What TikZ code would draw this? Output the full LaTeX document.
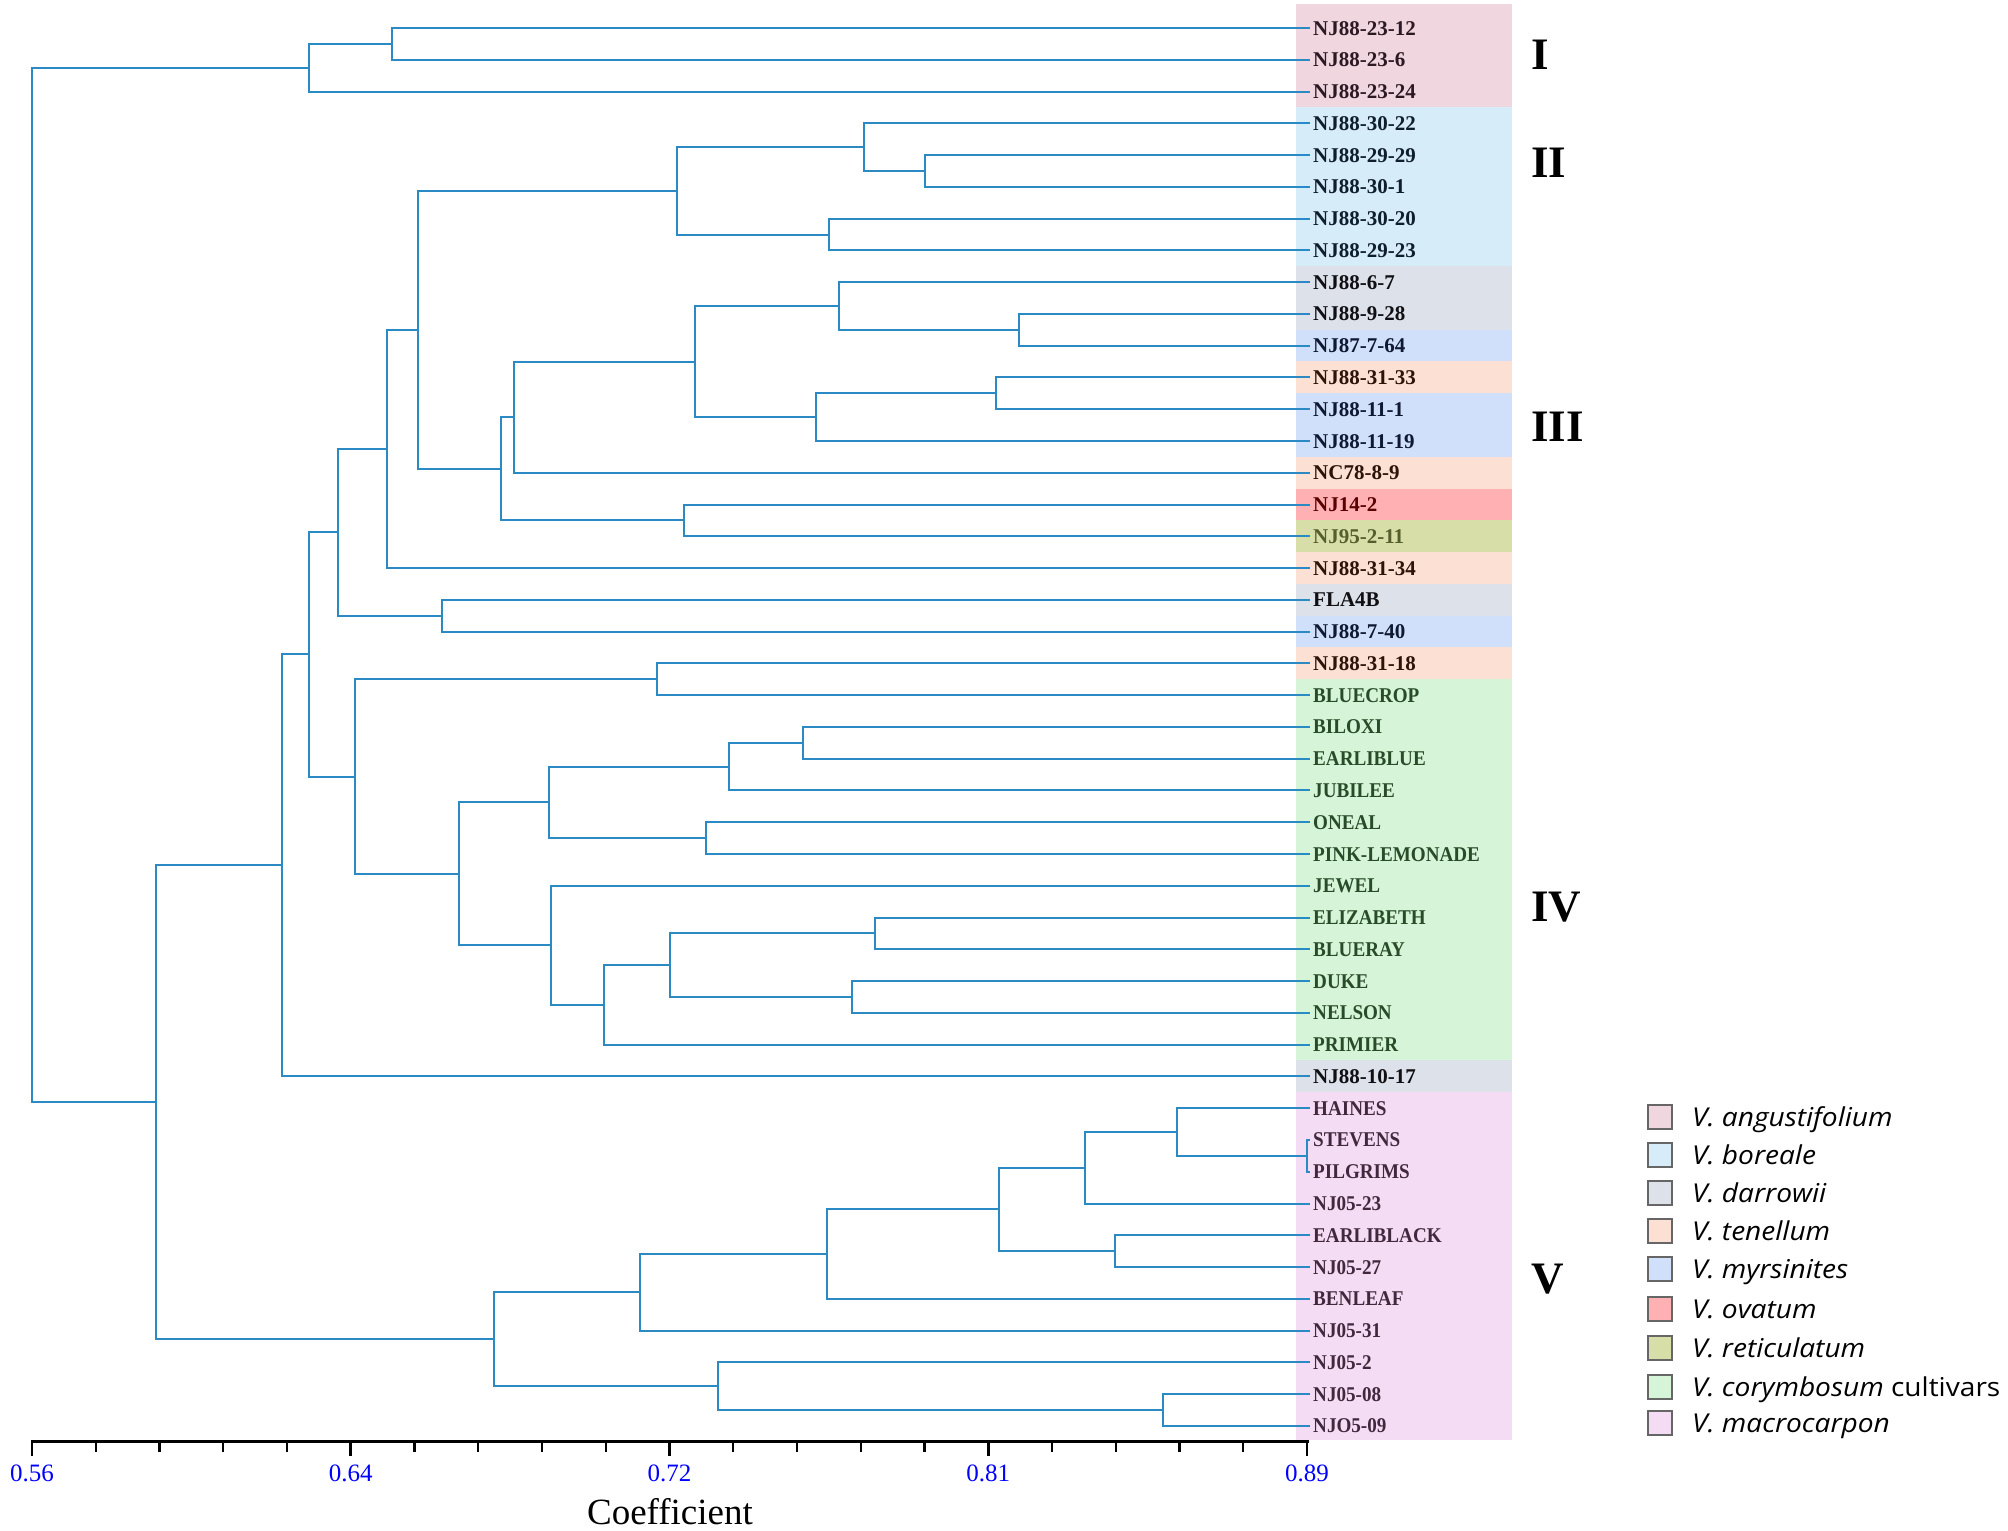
\documentclass[tikz,border=0pt]{standalone}
\usepackage{fontspec}
\setmainfont{Liberation Serif}
\newfontfamily\legfont[FakeStretch=1.08]{Open Sans}
\usetikzlibrary{calc}

\definecolor{brc}{RGB}{43,137,196}
\definecolor{cang}{RGB}{240,214,222}
\definecolor{cbor}{RGB}{214,236,248}
\definecolor{cdar}{RGB}{221,225,234}
\definecolor{cten}{RGB}{252,224,212}
\definecolor{cmyr}{RGB}{208,224,250}
\definecolor{cova}{RGB}{255,176,178}
\definecolor{cret}{RGB}{216,222,168}
\definecolor{ccor}{RGB}{214,244,216}
\definecolor{cmac}{RGB}{244,220,244}
\definecolor{tang}{RGB}{45,25,35}
\definecolor{tbor}{RGB}{15,30,45}
\definecolor{tdar}{RGB}{15,15,20}
\definecolor{tmyr}{RGB}{15,25,50}
\definecolor{tten}{RGB}{45,20,10}
\definecolor{tova}{RGB}{90,0,0}
\definecolor{tret}{RGB}{85,95,45}
\definecolor{tcor}{RGB}{40,75,40}
\definecolor{tmac}{RGB}{65,40,60}
\definecolor{tickblue}{RGB}{0,0,255}

\tikzset{
  branch/.style={draw=brc, line width=2pt, line join=miter},
  leaflab/.style={anchor=base west, inner sep=0pt, font=\fontsize{21}{24}\selectfont\bfseries},
  clade/.style={anchor=west, inner sep=0pt, font=\fontsize{45}{50}\selectfont\bfseries},
  axisline/.style={draw=black, line width=3pt},
  majtick/.style={draw=black, line width=2.6pt},
  mintick/.style={draw=black, line width=2.2pt},
  ticklab/.style={anchor=base, inner sep=0pt, text=tickblue, font=\fontsize{25}{28}\selectfont},
  legbox/.style={draw=gray!80!black, line width=1.3pt, minimum width=24pt, minimum height=24pt, inner sep=0pt},
  legtext/.style={anchor=base west, inner sep=0pt, font=\legfont\fontsize{26}{30}\selectfont}
}

\newcommand\jn[4]{%
  \path ($(#3)!0.5!(#4)$) coordinate (jtmp) (#2,0) coordinate (jtmpx);
  \coordinate (#1) at (jtmp -| jtmpx);
  \draw[branch] (#3) -| (#1) |- (#4);
}

\begin{document}
\begin{tikzpicture}[x=1pt,y=-1pt]
\useasboundingbox (0,0) rectangle (2008,1531);
\fill[white] (0,0) rectangle (2008,1531);

% colour bands and leaf labels
\foreach \i/\nm/\spc/\st in {
  0/NJ88-23-12/ang/b, 1/NJ88-23-6/ang/b, 2/NJ88-23-24/ang/b,
  3/NJ88-30-22/bor/b, 4/NJ88-29-29/bor/b, 5/NJ88-30-1/bor/b, 6/NJ88-30-20/bor/b, 7/NJ88-29-23/bor/b,
  8/NJ88-6-7/dar/b, 9/NJ88-9-28/dar/b, 10/NJ87-7-64/myr/b, 11/NJ88-31-33/ten/b,
  12/NJ88-11-1/myr/b, 13/NJ88-11-19/myr/b, 14/NC78-8-9/ten/b, 15/NJ14-2/ova/b,
  16/NJ95-2-11/ret/b, 17/NJ88-31-34/ten/b, 18/FLA4B/dar/b, 19/NJ88-7-40/myr/b,
  20/NJ88-31-18/ten/b, 21/BLUECROP/cor/c, 22/BILOXI/cor/c, 23/EARLIBLUE/cor/c,
  24/JUBILEE/cor/c, 25/ONEAL/cor/c, 26/PINK-LEMONADE/cor/c, 27/JEWEL/cor/c,
  28/ELIZABETH/cor/c, 29/BLUERAY/cor/c, 30/DUKE/cor/c, 31/NELSON/cor/c,
  32/PRIMIER/cor/c, 33/NJ88-10-17/dar/b, 34/HAINES/mac/c, 35/STEVENS/mac/c,
  36/PILGRIMS/mac/c, 37/NJ05-23/mac/c, 38/EARLIBLACK/mac/c, 39/NJ05-27/mac/c,
  40/BENLEAF/mac/c, 41/NJ05-31/mac/c, 42/NJ05-2/mac/c, 43/NJ05-08/mac/c, 44/NJO5-09/mac/c}
{
  \pgfmathsetmacro\yy{28+31.77*\i}
  \pgfmathsetmacro\ya{\i==0 ? 4 : \yy-16.0}
  \pgfmathsetmacro\yb{\i==44 ? 1440 : \yy+16.0}
  \fill[c\spc] (1296,\ya) rectangle (1512,\yb);
  \coordinate (l\i) at (1310,\yy);
  \if\st b
    \node[leaflab, text=t\spc] (n\i) at (1313,\yy+7.0) {\nm};
  \else
    \node[leaflab, text=t\spc] (n\i) at (1313,\yy+7.0) {\scalebox{0.91}[1]{\nm}};
  \fi
}

% dendrogram
\jn{A}{391.9}{l0}{l1}
\jn{B}{308.6}{A}{l2}
\jn{T}{924.6}{l4}{l5}
\jn{S}{864.4}{l3}{T}
\jn{U}{828.6}{l6}{l7}
\jn{J}{677.4}{S}{U}
\jn{O}{1019.4}{l9}{l10}
\jn{N}{838.8}{l8}{O}
\jn{Q}{996.3}{l11}{l12}
\jn{P}{815.7}{Q}{l13}
\jn{M}{695.4}{N}{P}
\jn{K}{513.5}{M}{l14}
\jn{R}{683.8}{l15}{l16}
\jn{L}{500.7}{K}{R}
\jn{I}{417.5}{J}{L}
\jn{G}{386.7}{I}{l17}
\jn{H}{441.8}{l18}{l19}
\jn{E}{338.1}{G}{H}
\jn{W}{657.0}{l20}{l21}
\jn{Yb}{802.9}{l22}{l23}
\jn{Ya}{728.7}{Yb}{l24}
\jn{Yc}{705.6}{l25}{l26}
\jn{Y}{549.4}{Ya}{Yc}
\jn{Zc}{874.7}{l28}{l29}
\jn{Zd}{851.6}{l30}{l31}
\jn{Zb}{669.8}{Zc}{Zd}
\jn{Za}{604.4}{Zb}{l32}
\jn{Z}{550.7}{l27}{Za}
\jn{X}{458.5}{Y}{Z}
\jn{F}{354.7}{W}{X}
\jn{D}{308.6}{E}{F}
\jn{C}{281.7}{D}{l33}
\jn{Vi}{1307}{l35}{l36}
\jn{Vh}{1176.9}{l34}{Vi}
\jn{Vf}{1084.7}{Vh}{l37}
\jn{Vg}{1115.4}{l38}{l39}
\jn{Ve}{998.9}{Vf}{Vg}
\jn{Vd}{827.3}{Ve}{l40}
\jn{Va}{640.3}{Vd}{l41}
\jn{Vc}{1162.8}{l43}{l44}
\jn{Vb}{718.4}{l42}{Vc}
\jn{Vr}{494.3}{Va}{Vb}
\jn{Rb}{156.2}{C}{Vr}
\jn{Root}{32}{B}{Rb}

% clade numerals
\node[clade] (cI) at (1531,55) {I};
\node[clade] (cII) at (1531,163) {II};
\node[clade] (cIII) at (1531,427) {III};
\node[clade] (cIV) at (1531,907) {IV};
\node[clade] (cV) at (1531,1279) {V};

% axis
\coordinate (ax0) at (32,1441);
\coordinate (ax1) at (1309,1441);
\draw[axisline] (ax0) -- (ax1);
\foreach \k in {0,...,20}{
  \pgfmathsetmacro\xx{32+63.75*\k}
  \pgfmathtruncatemacro\mm{mod(\k,5)}
  \ifnum\mm=0
    \draw[majtick] (\xx,1440) -- (\xx,1456);
  \else
    \draw[mintick] (\xx,1440) -- (\xx,1452);
  \fi
}
\node[ticklab] (t1) at (32,1481.5) {0.56};
\node[ticklab] (t2) at (350.75,1481.5) {0.64};
\node[ticklab] (t3) at (669.5,1481.5) {0.72};
\node[ticklab] (t4) at (988.25,1481.5) {0.81};
\node[ticklab] (t5) at (1307,1481.5) {0.89};
\node[anchor=base, inner sep=0pt, font=\fontsize{37}{40}\selectfont] (coef) at (670,1524) {Coefficient};

% legend
\foreach \j/\spc/\yy/\txt in {
  1/ang/1117/{\itshape V. angustifolium},
  2/bor/1155/{\itshape V. boreale},
  3/dar/1193/{\itshape V. darrowii},
  4/ten/1231/{\itshape V. tenellum},
  5/myr/1269/{\itshape V. myrsinites},
  6/ova/1309/{\itshape V. ovatum},
  7/ret/1348/{\itshape V. reticulatum},
  8/cor/1387/{{\itshape V. corymbosum} cultivars},
  9/mac/1423/{\itshape V. macrocarpon}}
{
  \node[legbox, fill=c\spc] (lb\j) at (1660,\yy) {};
  \node[legtext] (lt\j) at (1692,\yy+9.0) {\txt};
}
\end{tikzpicture}
\end{document}
